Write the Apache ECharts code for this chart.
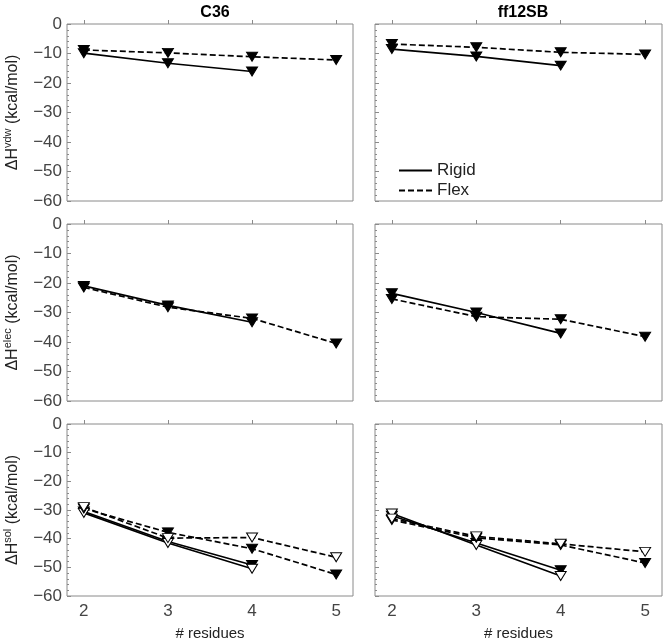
<!DOCTYPE html>
<html>
<head>
<meta charset="utf-8">
<script src="https://cdn.jsdelivr.net/npm/echarts@6/dist/echarts.min.js"></script>
<style>html,body{margin:0;padding:0;background:#fff;}#c{width:664px;height:642px;}</style>
</head>
<body>
<div id="c"></div>
<script>
// ---- data ----
const residues = [2, 3, 4, 5];
const xTicks = [2, 3, 4, 5];
const columnTitles = ['C36', 'ff12SB'];
const rowLabels = ['vdw', 'elec', 'sol'];

// van der Waals
const vdwC36Rigid = [-9.9, -13.3, -16.1];
const vdwC36Flex = [-8.8, -9.8, -11.1, -12.2];
const vdwFFRigid = [-8.5, -11.0, -14.1];
const vdwFFFlex = [-6.8, -7.9, -9.6, -10.3];

// electrostatics
const elecC36Rigid = [-21.0, -27.6, -33.3];
const elecC36Flex = [-21.5, -28.2, -32.0, -40.5];
const elecFFRigid = [-23.5, -30.0, -37.1];
const elecFFFlex = [-25.4, -31.4, -32.3, -38.2];

// solvation (filled / open markers)
const solC36RigidFilled = [-30.5, -41.0, -49.2];
const solC36RigidOpen = [-31.0, -41.5, -50.5];
const solC36FlexFilled = [-29.5, -37.8, -43.5, -52.5];
const solC36FlexOpen = [-29.0, -39.8, -39.6, -46.5];
const solFFRigidFilled = [-32.0, -41.5, -51.0];
const solFFRigidOpen = [-31.2, -42.2, -53.0];
const solFFFlexFilled = [-33.5, -39.7, -42.2, -48.5];
const solFFFlexOpen = [-33.0, -39.2, -41.8, -44.6];

// ---- layout ----
const FONT = '"Liberation Sans", Arial, Helvetica, sans-serif';
const gridLeft = [67, 375];
const gridWidth = [286, 287];
const gridTop = [24, 224, 424];
const gridHeight = 177;

function pts(vals) { return vals.map((v, i) => [residues[i], v]); }

const panels = [
  [
    [{name: 'Rigid', d: vdwC36Rigid, dash: false, open: false}, {name: 'Flex', d: vdwC36Flex, dash: true, open: false}],
    [{name: 'Rigid', d: vdwFFRigid, dash: false, open: false}, {name: 'Flex', d: vdwFFFlex, dash: true, open: false}]
  ],
  [
    [{name: 'Rigid', d: elecC36Rigid, dash: false, open: false}, {name: 'Flex', d: elecC36Flex, dash: true, open: false}],
    [{name: 'Rigid', d: elecFFRigid, dash: false, open: false}, {name: 'Flex', d: elecFFFlex, dash: true, open: false}]
  ],
  [
    [{name: 'Rigid', d: solC36RigidFilled, dash: false, open: false}, {name: 'Rigid open', d: solC36RigidOpen, dash: false, open: true},
     {name: 'Flex', d: solC36FlexFilled, dash: true, open: false}, {name: 'Flex open', d: solC36FlexOpen, dash: true, open: true}],
    [{name: 'Rigid', d: solFFRigidFilled, dash: false, open: false}, {name: 'Rigid open', d: solFFRigidOpen, dash: false, open: true},
     {name: 'Flex', d: solFFFlexFilled, dash: true, open: false}, {name: 'Flex open', d: solFFFlexOpen, dash: true, open: true}]
  ]
];

const grids = [], xAxes = [], yAxes = [], series = [];
let gi = 0;
for (let r = 0; r < 3; r++) {
  for (let c = 0; c < 2; c++) {
    grids.push({
      left: gridLeft[c], top: gridTop[r], width: gridWidth[c], height: gridHeight,
      show: true, borderColor: '#8a8a8a', borderWidth: 1, backgroundColor: 'transparent'
    });
    xAxes.push({
      gridIndex: gi, type: 'value', min: 1.8, max: 5.2,
      axisLine: {show: false},
      splitLine: {show: false},
      axisTick: {show: true, inside: true, length: 4, customValues: xTicks, lineStyle: {color: '#8a8a8a'}},
      axisLabel: {show: r === 2, customValues: xTicks, fontFamily: FONT, fontSize: 17, color: '#444', margin: 7},
      name: r === 2 ? '# residues' : '',
      nameLocation: 'middle', nameGap: 30,
      nameTextStyle: {fontFamily: FONT, fontSize: 15, color: '#222'}
    });
    yAxes.push({
      gridIndex: gi, type: 'value', min: -60, max: 0, interval: 10,
      axisLine: {show: false},
      splitLine: {show: false},
      axisTick: {show: true, inside: true, length: 4, lineStyle: {color: '#8a8a8a'}},
      minorTick: {show: true, splitNumber: 5, length: 2, lineStyle: {color: '#8a8a8a'}},
      minorSplitLine: {show: false},
      axisLabel: {show: c === 0, fontFamily: FONT, fontSize: 17, color: '#444', margin: 5,
        formatter: v => String(v).replace('-', '\u2212')},
      name: c === 0 ? '{a|\u0394H}{s|' + rowLabels[r] + '}{a| (kcal/mol)}' : '',
      nameLocation: 'middle', nameRotate: 90, nameGap: 44,
      nameTextStyle: {
        rich: {
          a: {fontFamily: FONT, fontSize: 16, color: '#222'},
          s: {fontFamily: FONT, fontSize: 11, color: '#222', verticalAlign: 'top', padding: [0, 0, 10, 0]}
        }
      }
    });
    panels[r][c].forEach(s => {
      series.push({
        type: 'line', name: s.name, xAxisIndex: gi, yAxisIndex: gi,
        data: pts(s.d),
        symbol: 'triangle', symbolRotate: 180, symbolSize: [11, 9],
        showSymbol: true,
        lineStyle: {color: '#000', width: 1.7, type: s.dash ? [6, 3] : 'solid'},
        itemStyle: s.open ? {color: '#fff', borderColor: '#000', borderWidth: 1} : {color: '#000', borderColor: '#000', borderWidth: 1},
        emphasis: {disabled: true},
        animation: false,
        z: 2
      });
    });
    gi++;
  }
}

const option = {
  animation: false,
  backgroundColor: '#fff',
  title: [
    {text: columnTitles[0], left: 210, top: 0, textAlign: 'center',
      textStyle: {fontFamily: FONT, fontSize: 16, fontWeight: 'bold', color: '#000'}},
    {text: columnTitles[1], left: 518, top: 0, textAlign: 'center',
      textStyle: {fontFamily: FONT, fontSize: 16, fontWeight: 'bold', color: '#000'}}
  ],
  legend: {
    data: ['Rigid', 'Flex'],
    orient: 'vertical', left: 393, top: 157,
    itemWidth: 33, itemHeight: 12, itemGap: 3,
    itemStyle: {opacity: 0},
    textStyle: {fontFamily: FONT, fontSize: 17, color: '#222'},
    selectedMode: false
  },
  grid: grids,
  xAxis: xAxes,
  yAxis: yAxes,
  series: series
};

const chart = echarts.init(document.getElementById('c'), null, {renderer: 'canvas'});
chart.setOption(option);
</script>
</body>
</html>
